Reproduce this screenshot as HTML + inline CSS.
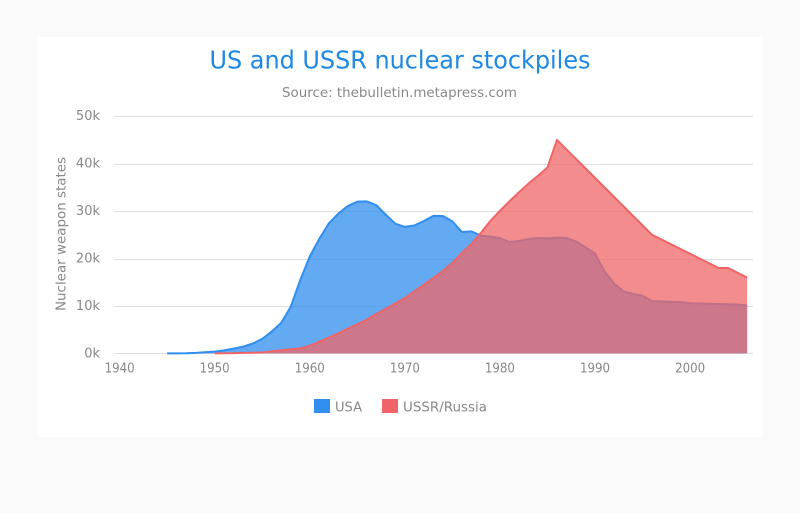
<!DOCTYPE html>
<html lang="en">
<head>
<meta charset="utf-8">
<title>US and USSR nuclear stockpiles</title>
<style>
html,body{margin:0;padding:0;background:#fafafa;width:800px;height:513px;overflow:hidden}
svg{display:block}
text{font-family:"DejaVu Sans","Liberation Sans",sans-serif;fill:#888}
</style>
</head>
<body>
<svg id="chart" xmlns="http://www.w3.org/2000/svg" width="800" height="513" viewBox="0 0 800 513">
  <rect x="37" y="37" width="726" height="400" fill="#fff"/>
  <text x="400" y="68.5" text-anchor="middle" font-size="25" textLength="381" lengthAdjust="spacingAndGlyphs" style="fill:#1e88e5">US and USSR nuclear stockpiles</text>
  <text x="399.5" y="97" text-anchor="middle" font-size="13.5" textLength="235" lengthAdjust="spacingAndGlyphs">Source: thebulletin.metapress.com</text>
  <text transform="translate(65.5,234) rotate(-90)" text-anchor="middle" font-size="13.5" textLength="154" lengthAdjust="spacingAndGlyphs">Nuclear weapon states</text>
  <g id="grid"></g>
  <g id="ylabels"></g>
  <g id="xlabels"></g>
  <g id="series"></g>
  <g>
    <rect x="314" y="399" width="16" height="14" fill="#2f8eef"/>
    <text x="335" y="411.5" font-size="13.5" textLength="27" lengthAdjust="spacingAndGlyphs">USA</text>
  </g>
  <g>
    <rect x="382" y="399" width="16" height="14" fill="#ef6567"/>
    <text x="403" y="411.5" font-size="13.5" textLength="84" lengthAdjust="spacingAndGlyphs">USSR/Russia</text>
  </g>
</svg>
<script>
const firstYear = 1945;
const usaValues = [6,11,32,110,235,369,640,1005,1436,2063,3057,4618,6444,9822,15468,20434,24126,27387,29459,31056,31982,32040,31233,29224,27342,26662,26956,27912,28999,28965,27826,25579,25722,24826,24605,24304,23464,23708,24099,24357,24237,24401,24344,23586,22380,21004,17287,14747,13076,12555,12144,11009,10950,10871,10824,10577,10527,10475,10421,10358,10295,10104];
const russiaFirstYear = 1950;
const russiaValues = [5,25,50,120,150,200,426,660,869,1060,1605,2471,3322,4238,5221,6129,7089,8339,9399,10538,11643,13092,14478,15915,17385,19055,21205,23044,25393,27935,30062,32049,33952,35804,37431,39197,45000,43000,41000,39000,37000,35000,33000,31000,29000,27000,25000,24000,23000,22000,21000,20000,19000,18000,18000,17000,16000];
const yTicks = [0,10000,20000,30000,40000,50000];
const yTickLabels = ['0k','10k','20k','30k','40k','50k'];
const xTicks = [1940,1950,1960,1970,1980,1990,2000];

const NS = 'http://www.w3.org/2000/svg';
function xScale(year){ return 119.6 + (year - 1940) * 9.508; }
function yScale(v){ return 353.4 - v / 50000 * 237.2; }
function make(tag, attrs, parent){
  const el = document.createElementNS(NS, tag);
  for (const k in attrs) el.setAttribute(k, attrs[k]);
  parent.appendChild(el);
  return el;
}
const grid = document.getElementById('grid');
const ylabels = document.getElementById('ylabels');
const xlabels = document.getElementById('xlabels');
const seriesLayer = document.getElementById('series');

yTicks.forEach(function(t, i){
  const y = Math.round(yScale(t)) + 0.5;
  const line = make('line', {x1:114, x2:753, y1:y, y2:y, stroke:'#e0e0e0', 'stroke-width':1}, grid);
  
  
  const label = make('text', {x:100, y:yScale(t) + 4, 'text-anchor':'end', 'font-size':13}, ylabels);
  
  
  label.textContent = yTickLabels[i];
});
xTicks.forEach(function(t){
  const label = make('text', {x:xScale(t), y:372.5, 'text-anchor':'middle', 'font-size':13.5, textLength:30, lengthAdjust:'spacingAndGlyphs'}, xlabels);
  
  
  label.textContent = String(t);
});

function drawSeries(startYear, values, color, fill, name){
  const pts = values.map(function(v, i){
    return xScale(startYear + i).toFixed(2) + ',' + yScale(v).toFixed(2);
  });
  const x0 = xScale(startYear).toFixed(2);
  const x1 = xScale(startYear + values.length - 1).toFixed(2);
  const base = yScale(0).toFixed(2);
  const area = make('polygon', {points: x0 + ',' + base + ' ' + pts.join(' ') + ' ' + x1 + ',' + base, fill: fill, 'fill-opacity':0.75}, seriesLayer);
  
  
  const line = make('polyline', {points: pts.join(' '), fill:'none', stroke:color, 'stroke-width':2, 'stroke-linejoin':'round'}, seriesLayer);
  
  
}
drawSeries(firstYear, usaValues, '#2f8eef', '#2f8eef', 'usa');
drawSeries(russiaFirstYear, russiaValues, '#ef6567', '#ef6567', 'ussr-russia');
</script>
</body>
</html>
